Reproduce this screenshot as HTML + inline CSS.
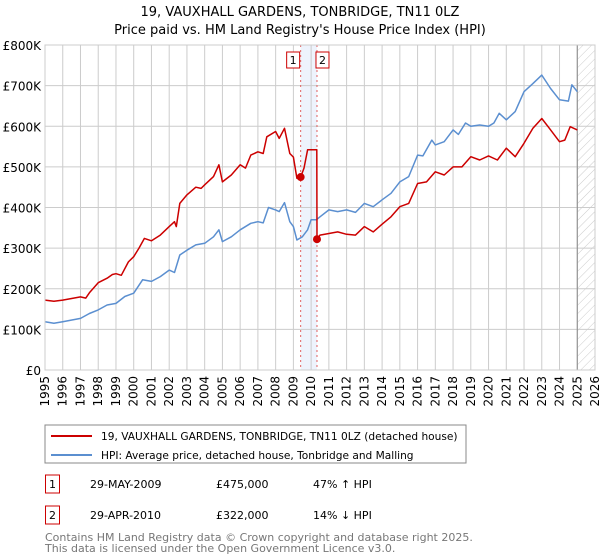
<!DOCTYPE html>
<html><head><meta charset="utf-8"><style>
body{margin:0;background:#fff;font-family:"Liberation Sans","DejaVu Sans",sans-serif}
#wrap{position:relative;width:600px;height:560px;overflow:hidden}
</style></head><body>
<div id="wrap">
<svg id="chart" width="600" height="560" xmlns="http://www.w3.org/2000/svg" font-family="DejaVu Sans, Liberation Sans, sans-serif">
<defs><pattern id="hatch" width="6" height="6" patternUnits="userSpaceOnUse" patternTransform="rotate(45)"><line x1="0" y1="0" x2="0" y2="6" stroke="#ccc" stroke-width="1"/></pattern></defs>
<text x="300" y="16" text-anchor="middle" font-size="13" fill="#000">19, VAUXHALL GARDENS, TONBRIDGE, TN11 0LZ</text>
<text x="300" y="34" text-anchor="middle" font-size="13" fill="#000">Price paid vs. HM Land Registry's House Price Index (HPI)</text>
<g id="plot"></g>
<rect x="45" y="425" width="421" height="38" fill="#fff" stroke="#888"/>
<line x1="51" y1="436" x2="92" y2="436" stroke="#cc0000" stroke-width="2"/>
<text x="101" y="440" font-size="10.6">19, VAUXHALL GARDENS, TONBRIDGE, TN11 0LZ (detached house)</text>
<line x1="51" y1="455" x2="92" y2="455" stroke="#5b8fd0" stroke-width="2"/>
<text x="101" y="459" font-size="10.6">HPI: Average price, detached house, Tonbridge and Malling</text>
<rect x="45.5" y="475" width="14" height="18" fill="none" stroke="#cc0000"/>
<text x="49" y="488" font-size="11">1</text>
<text x="90" y="488" font-size="11">29-MAY-2009</text>
<text x="216" y="488" font-size="11">£475,000</text>
<text x="313" y="488" font-size="11">47% ↑ HPI</text>
<rect x="45.5" y="506" width="14" height="18" fill="none" stroke="#cc0000"/>
<text x="49" y="519" font-size="11">2</text>
<text x="90" y="519" font-size="11">29-APR-2010</text>
<text x="216" y="519" font-size="11">£322,000</text>
<text x="313" y="519" font-size="11">14% ↓ HPI</text>
<text x="45" y="541" font-size="11" fill="#777">Contains HM Land Registry data © Crown copyright and database right 2025.</text>
<text x="45" y="552" font-size="11" fill="#777">This data is licensed under the Open Government Licence v3.0.</text>
</svg></div>
<script>
const yTicks=[0,100,200,300,400,500,600,700,800];
const yTickLabels=["£0","£100K","£200K","£300K","£400K","£500K","£600K","£700K","£800K"];
const xYears=[1995,1996,1997,1998,1999,2000,2001,2002,2003,2004,2005,2006,2007,2008,2009,2010,2011,2012,2013,2014,2015,2016,2017,2018,2019,2020,2021,2022,2023,2024,2025,2026];
const redT=[1995,1995.5,1996,1997,1997.3,1997.5,1998,1998.5,1998.8,1999,1999.3,1999.7,2000,2000.3,2000.6,2001,2001.5,2002,2002.3,2002.4,2002.6,2003,2003.5,2003.8,2004,2004.5,2004.8,2005,2005.5,2006,2006.3,2006.6,2007,2007.3,2007.5,2008,2008.2,2008.5,2008.8,2009,2009.2,2009.41,2009.6,2009.8,2010.32,2010.33,2010.5,2011,2011.5,2012,2012.5,2013,2013.5,2014,2014.5,2015,2015.5,2016,2016.5,2017,2017.5,2018,2018.5,2019,2019.5,2020,2020.5,2021,2021.5,2022,2022.5,2023,2023.5,2024,2024.3,2024.6,2025];
const redV=[172,169,172,180,177,190,215,226,235,237,233,266,279,300,324,318,332,353,365,353,410,431,450,447,456,476,505,463,480,505,497,529,537,533,574,587,570,595,533,524,472,475,497,542,542,322,332,336,340,334,332,353,340,359,377,402,410,459,463,488,480,500,500,525,517,527,517,546,525,558,595,619,591,562,566,599,591];
const hpiT=[1995,1995.5,1996,1997,1997.5,1998,1998.5,1999,1999.5,2000,2000.5,2001,2001.5,2002,2002.3,2002.6,2003,2003.5,2004,2004.5,2004.8,2005,2005.5,2006,2006.6,2007,2007.3,2007.6,2008,2008.2,2008.5,2008.8,2009,2009.2,2009.5,2009.8,2010,2010.3,2010.5,2011,2011.5,2012,2012.5,2013,2013.5,2014,2014.5,2015,2015.5,2016,2016.3,2016.8,2017,2017.5,2018,2018.3,2018.7,2019,2019.5,2020,2020.3,2020.6,2021,2021.5,2022,2022.5,2023,2023.5,2024,2024.5,2024.7,2025];
const hpiV=[119,115,119,127,139,148,160,164,181,189,222,218,230,246,240,283,295,308,312,328,345,316,328,345,361,365,362,400,394,390,412,365,353,320,328,345,370,370,377,394,390,394,388,410,402,419,435,463,476,529,527,566,554,562,591,580,608,600,603,600,608,632,616,636,685,705,726,693,665,662,702,685];
const sales=[{n:"1",t:2009.41,v:475},{n:"2",t:2010.33,v:322}];
const X0=45,X1=595,Y0=370,Y1=45;
const xs=t=>X0+(t-1995)/(2026-1995)*(X1-X0);
const ys=v=>Y0-v/800*(Y0-Y1);
const NS="http://www.w3.org/2000/svg";
const g=document.getElementById('plot');
function mk(tag,attrs){const e=document.createElementNS(NS,tag);for(const k in attrs)e.setAttribute(k,attrs[k]);g.appendChild(e);return e;}
let e;
e=mk('rect',{x:xs(sales[0].t),y:Y1,width:xs(sales[1].t)-xs(sales[0].t),height:Y0-Y1,fill:'#eef3fc'});


e=mk('rect',{x:xs(2025.0),y:Y1,width:X1-xs(2025.0),height:Y0-Y1,fill:'url(#hatch)'});


yTicks.forEach((v,i)=>{
 e=mk('line',{x1:X0,x2:X1,y1:ys(v),y2:ys(v),stroke:'#ccc','stroke-width':1});
 
 
 e=mk('text',{x:X0-4,y:ys(v)+5,'text-anchor':'end','font-size':12,fill:'#000'});
 e.textContent=yTickLabels[i];
 
 
});
xYears.forEach(yr=>{
 const x=xs(yr);
 e=mk('line',{x1:x,x2:x,y1:Y1,y2:Y0,stroke:'#ccc','stroke-width':1});
 
 
 e=mk('text',{x:0,y:0,'font-size':12,'text-anchor':'end',transform:`translate(${x+4},${Y0+6}) rotate(-90)`});
 e.textContent=yr;
 
 
});
e=mk('line',{x1:xs(2025.0),x2:xs(2025.0),y1:Y1,y2:Y0,stroke:'#888','stroke-width':1});


sales.forEach(s=>{
 e=mk('line',{x1:xs(s.t),x2:xs(s.t),y1:Y1,y2:Y0,stroke:'#e06060','stroke-width':1,'stroke-dasharray':'2,3'});
 
 
});
function path(T,V){return T.map((t,i)=>(i?'L':'M')+xs(t).toFixed(1)+','+ys(V[i]).toFixed(1)).join('');}
e=mk('path',{d:path(hpiT,hpiV),fill:'none',stroke:'#5b8fd0','stroke-width':1.5,'stroke-linejoin':'round'});


e=mk('path',{d:path(redT,redV),fill:'none',stroke:'#cc0000','stroke-width':1.5,'stroke-linejoin':'round'});


sales.forEach((s,i)=>{
 e=mk('circle',{cx:xs(s.t),cy:ys(s.v),r:4,fill:'#cc0000'});
 
 
 const bx=xs(s.t)+(i===0?-8:5);
 e=mk('rect',{x:bx-6,y:52,width:13,height:16,fill:'#fff',stroke:'#cc0000'});
 
 
 e=mk('text',{x:bx+0.5,y:64,'font-size':11,'text-anchor':'middle'});
 e.textContent=s.n;
 
 
});
e=mk('rect',{x:X0,y:Y1,width:X1-X0,height:Y0-Y1,fill:'none',stroke:'#ccc'});


</script>
</body></html>
